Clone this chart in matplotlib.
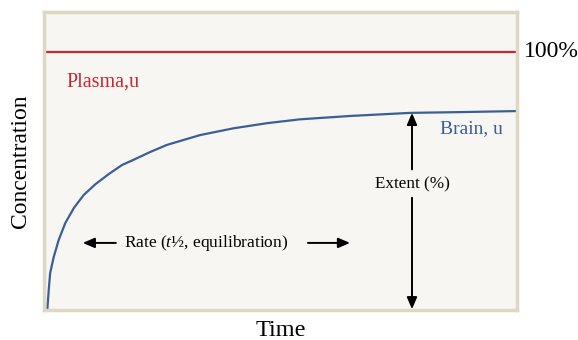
import numpy as np
import matplotlib.pyplot as plt

plt.rcParams['font.family'] = ['Liberation Serif', 'DejaVu Serif']
plt.rcParams['mathtext.fontset'] = 'custom'
plt.rcParams['mathtext.rm'] = 'Liberation Serif'
plt.rcParams['mathtext.it'] = 'Liberation Serif:italic'

# unbound drug concentration over time (plasma held at 100%)
time = [0.7, 1.0, 1.3, 2.05, 3.1, 4.5, 6.3, 8.4, 10.9, 13.7, 16.5, 18.8, 22.4, 26.0,
        33.0, 40.0, 47.1, 54.1, 64.7, 77.4, 87.9, 100]
brain = [0.0, 7.8, 14.3, 20.5, 27.1, 33.7, 39.5, 44.6, 48.8, 52.7, 56.2, 58.1, 61.2, 64.0,
         67.8, 70.4, 72.4, 73.9, 75.2, 76.4, 76.7, 77.1]
plasma_level = 100
extent_time = 77.8

red = '#c9262f'
blue = '#3b5f95'

fig = plt.figure(figsize=(5.78, 3.40), dpi=100)
ax = fig.add_axes([44 / 578, 30 / 340, 473 / 578, 298 / 340])
ax.set_facecolor('#f7f6f2')
for s in ax.spines.values():
    s.set_color('#dcd8c2')
    s.set_linewidth(2.5)
ax.set_xlim(0, 100)
ax.set_ylim(0, 115.5)
ax.set_xticks([])
ax.set_yticks([])

ax.axhline(plasma_level, xmin=0.005, xmax=1, color=red, lw=1.6)
ax.plot(time, brain, color=blue, lw=1.6, solid_joinstyle='round')

ax.text(101.5, plasma_level, '100%', fontsize=17, ha='left', va='center', clip_on=False)
ax.text(4.8, 88.5, 'Plasma,u', color=red, fontsize=14.5, ha='left', va='center')
ax.text(83.7, 70.5, 'Brain, u', color=blue, fontsize=14, ha='left', va='center')

# extent arrows, split around the label
ax.text(extent_time, 48.5, 'Extent (%)', fontsize=12.3, ha='center', va='center')
arrow = dict(arrowstyle='-|>,head_length=0.7,head_width=0.3', color='black', lw=1.4, shrinkA=0, shrinkB=0)
ax.annotate('', xy=(extent_time, 76.4), xytext=(extent_time, 54.5), arrowprops=arrow)
ax.annotate('', xy=(extent_time, 0.3), xytext=(extent_time, 43.5), arrowprops=arrow)

# rate arrows
ax.text(34.2, 26, r'Rate ($\it{t}$½, equilibration)', fontsize=12.5, ha='center', va='center')
ax.annotate('', xy=(8.2, 26), xytext=(15.2, 26), arrowprops=arrow)
ax.annotate('', xy=(64.7, 26), xytext=(55.8, 26), arrowprops=arrow)

ax.set_xlabel('Time', fontsize=17.5, labelpad=7.5)
ax.set_ylabel('Concentration', fontsize=17, labelpad=9)

fig.savefig('out.png', dpi=100, facecolor='white')
